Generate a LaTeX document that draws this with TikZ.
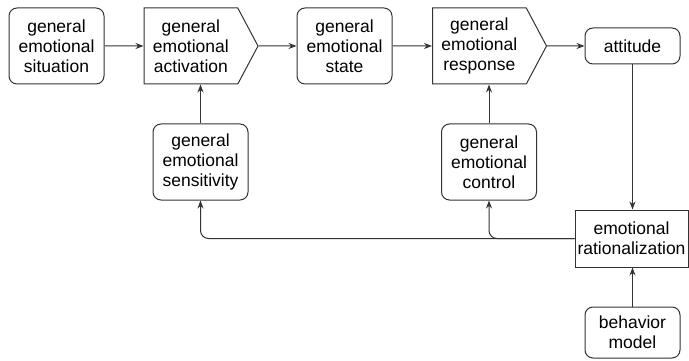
\documentclass[tikz,border=0pt]{standalone}
\usepackage{fontspec}
\setmainfont{Liberation Sans}
\usetikzlibrary{shapes.symbols,arrows.meta}

\tikzset{
  txt/.style={align=center, inner sep=1pt, font=\fontsize{17.5}{20}\selectfont},
  box/.style={txt, shape=rectangle, draw=black!80, line width=1pt, rounded corners=8pt,
    minimum width=95pt, minimum height=76pt},
  sig/.style={txt, shape=signal, signal to=east, signal pointer angle=124, draw=black!80,
    line width=1pt, minimum width=114pt, minimum height=76pt, anchor=west},
  plain/.style={txt, shape=rectangle, draw=black!80, line width=1pt,
    minimum width=113pt, minimum height=57pt},
  arr/.style={draw=black!80, line width=1pt, -{Stealth[length=8pt,width=6pt]}}
}

\begin{document}
\begin{tikzpicture}[x=1pt, y=-1pt]
\useasboundingbox (0,0) rectangle (689,361);

% top row
\node[box] (sit) at (56.5,46) {general\\emotional\\situation};
\node[sig] (act) at (143.5,46) {general\\emotional\\activation};
\node[box] (state) at (344.5,46) {general\\emotional\\state};
\node[sig] (resp) at (432,46) {general\\emotional\\response};
\node[box, minimum height=36pt] (att) at (632.5,46) {attitude};

% second row
\node[box] (sens) at (200.5,162) {general\\emotional\\sensitivity};
\node[box] (ctrl) at (489,162) {general\\emotional\\control};
\node[plain] (rat) at (631.5,238.5) {emotional\\rationalization};
\node[box, minimum height=51pt] (beh) at (632.5,332.5) {behavior\\model};

\draw[arr] (sit) -- (act);
\draw[arr] (act) -- (state);
\draw[arr] (state) -- (resp);
\draw[arr] (resp) -- (att);
\draw[arr] (att.south) -- (att.south |- rat.north);
\draw[arr] (sens.north) -- (sens.north |- act.south);
\draw[arr] (ctrl.north) -- (ctrl.north |- resp.south);
\draw[arr] (beh.north) -- (beh.north |- rat.south);
\draw[arr, rounded corners=8pt] (rat.west) -| (sens.south);
\draw[arr, rounded corners=8pt] (rat.west) -| (ctrl.south);

\end{tikzpicture}
\end{document}
